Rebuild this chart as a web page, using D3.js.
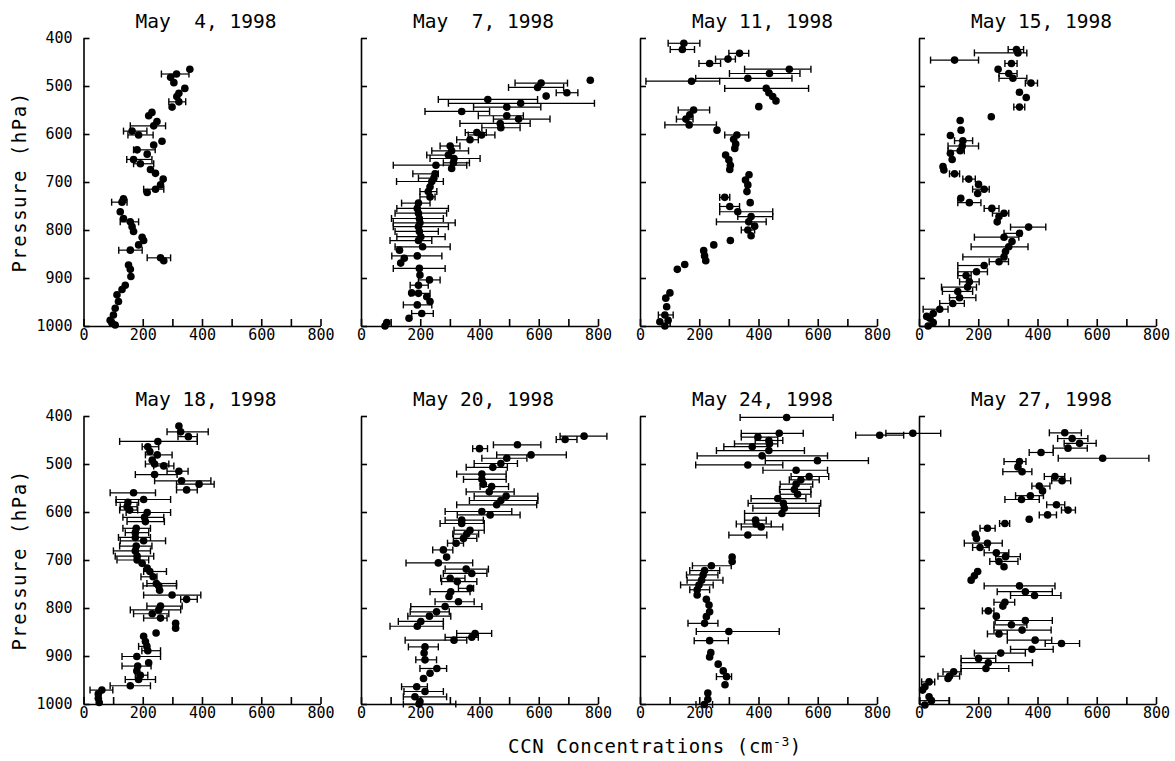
<!DOCTYPE html>
<html>
<head>
<meta charset="utf-8">
<script src="https://cdn.jsdelivr.net/npm/d3@7"></script>
<style>
body { margin: 0; background: #fff; }
text { font-family: "DejaVu Sans Mono", monospace; fill: #000; }
</style>
</head>
<body>
<div id="chart"></div>
<script>
// each row: [ccn, pressure, barLow, barHigh]  (no bar when only two values)
var may04 = [[359,465],[314,475,263,356],[294,482],[305,493],[342,505],[322,515],[315,522],[322,533,288,345],
  [299,544],[231,555],[220,562],[248,574],[237,583,158,277],[164,594,135,214],[186,602,150,235],[265,615],
  [237,623],[181,633,169,242],[215,642],[169,653,146,231],[192,662,169,237],[226,674],[243,682],[269,694],
  [260,706],[243,715,203,271],[215,722],[135,735],[130,742,95,147],[124,762],[135,776],[158,783,124,186],
  [164,793],[169,803],[198,815],[203,822],[186,831],[158,842,119,198],[260,858,215,294],[271,864],[152,873],
  [158,882],[160,897],[141,915],[130,924],[113,935],[118,949],[107,963],[101,977],[90,988],[96,994],[107,998]];

var may07 = [[774,488],[608,494,520,697],[596,503,498,684],[695,514,659,732],[625,521],[428,528,261,596],
  [539,536,295,788],[492,544,380,607],[340,553,216,434],[492,562,396,548],[532,569,447,638],[470,578,334,571],
  [472,587,408,537],[391,597,352,423],[407,602,362,452],[368,612,323,396],[301,625,267,334],[306,635,239,363],
  [295,644,222,301],[314,651,233,402],[312,660,278,366],[253,665,109,357],[306,672],[250,683,175,261],
  [246,692,194,244],[239,699,120,278],[233,710],[227,720,199,256],[233,731,199,250],[194,744,137,233],
  [190,755,121,295],[194,765,115,289],[197,776,103,278],[199,785,109,318],[194,793,109,295],[197,803,115,261],
  [202,814,121,284],[194,822,98,239],[208,835,115,301],[130,842],[190,854,104,273],[146,859],[134,869],
  [197,880,109,284],[199,894],[231,904,194,267],[194,915,166,227],[171,931],[194,932,166,233],[222,939],
  [233,949],[190,956,143,239],[205,974,171,244],[162,984],[87,993],[81,1000]];

var may11 = [[148,411,95,202],[143,424,102,184],[336,432,300,367],[297,444,255,322],[235,453,199,272],
  [504,465,353,577],[437,474,302,540],[364,484,188,513],[174,490,20,269],[426,505,286,569],[435,514],[448,522],
  [459,531],[401,543],[181,550,129,235],[168,560],[155,569,123,179],[166,581,84,258],[260,592],[327,602,286,367],
  [316,611],[323,621],[320,630],[289,644],[300,654],[305,665],[303,674],[368,685],[356,696],[364,706],[361,720],
  [286,732,269,303],[372,743],[303,751,269,336],[330,762,269,448],[375,772,330,448],[367,783,258,426],[387,792],
  [364,800,342,387],[375,812],[305,822],[249,831],[215,843],[218,854],[222,864],[151,872],[126,882],[101,931],
  [87,942],[90,960],[84,977,62,112],[95,988],[67,991],[84,1000]];

var may15 = [[329,424,301,353],[334,431,187,364],[120,446,39,201],[312,453,290,331],[267,465],[303,474,270,331],
  [317,484,270,364],[378,494,359,400],[339,513],[362,524],[339,544,320,357],[244,564],[139,572],[142,592],
  [106,603],[148,614,120,181],[146,625,98,201],[139,635,98,153],[106,640],[112,653],[81,668],[84,675],
  [120,683,103,137],[168,694,148,190],[201,705],[220,715,181,237],[198,724],[141,734],[170,743,131,209],
  [246,755,220,270],[287,765,248,303],[270,772],[264,783],[370,794,309,428],[339,807,287,346],[287,815,187,337],
  [314,824],[303,835,176,368],[292,845],[287,856,148,292],[270,866,237,302],[220,874,131,217],[194,887,131,231],
  [159,895,131,176],[170,908,137,203],[164,919,76,194],[131,928,79,181],[137,941,103,192],[114,953,70,153],
  [70,965,14,98],[48,974],[37,984],[26,980],[48,993],[31,1000]];

var may18 = [[322,421],[328,433,282,421],[354,443,319,384],[251,453,122,384],[217,464,198,254],[224,474],
  [249,481,209,299],[232,492],[240,500,209,288],[271,504,237,305],[322,515,282,353],[240,522,175,316],
  [331,535,240,430],[390,542,314,441],[348,554,314,384],[169,560,90,243],[203,574,110,294],[150,580,110,186],
  [147,589,124,181],[156,596,122,183],[215,601,144,294],[206,611,133,271],[209,620,147,273],[178,634,133,226],
  [175,643,141,220],[175,653,118,226],[203,660,124,277],[178,671,122,231],[175,681,101,226],[181,692,107,237],
  [181,700,113,220],[198,707],[215,717],[224,724,203,280],[235,735,194,248],[246,749,214,314],[254,754,201,314],
  [257,763],[299,773,203,396],[348,782,328,384],[260,796,214,333],[254,804,158,328],[232,812,169,288],
  [260,821,203,282],[311,832],[311,842],[245,852],[203,859],[209,870],[214,880,186,220],[217,889,197,260],
  [180,901,130,260],[220,914],[183,921,130,228],[180,931],[192,940,175,217],[186,949,141,243],[158,962,90,226],
  [62,971,22,99],[50,979],[50,988],[53,997]];

var may20 = [[753,442,672,830],[689,449,659,729],[528,460,447,607],[400,468,377,427],[574,481,458,693],
  [492,488,408,560],[472,499,382,528],[445,507,355,494],[408,521,323,490],[408,532,346,490],[413,542],
  [441,547,402,498],[433,558,355,517],[490,567,382,597],[472,576,366,597],[458,585,323,593],[408,599,284,509],
  [436,606,325,537],[340,617,284,413],[340,624,267,416],[368,638,314,416],[357,646,310,397],[346,655,312,391],
  [321,665,292,346],[278,679,242,310],[289,694],[261,706,152,377],[355,719,284,430],[374,728,278,425],
  [301,738,269,351],[325,745,272,391],[368,759,329,380],[303,766,233,368],[297,776],[329,787,250,382],
  [284,797,168,408],[255,808,166,298],[231,817,158,303],[202,828,126,278],[190,838,98,278],[385,853,323,441],
  [374,861,284,396],[314,867,149,357],[216,881,160,261],[213,894],[216,908,185,255],[256,926,199,289],[233,936],
  [211,947],[188,964,137,224],[216,974,145,278],[182,985,143,289],[199,995],[196,1000,143,320]];

var may24 = [[495,403,338,652],[809,440,728,890],[921,436,830,1015],[470,436,342,551],[398,444,342,465],
  [435,451,389,482],[437,458,319,465],[379,464,283,437],[435,472,258,555],[412,483,193,633],[599,493,423,771],
  [364,502,188,482],[527,513,415,633],[571,526,510,637],[543,533,504,605],[527,542,473,583],[521,553,471,577],
  [532,563,473,577],[465,572,375,560],[484,582,365,610],[487,592,381,605],[479,603,353,605],[390,617,353,426],
  [392,625,325,443],[409,631,342,482],[364,648,300,428],[311,694],[311,703],[241,712,177,308],[218,722,168,269],
  [213,731,157,263],[208,742,159,280],[199,752,137,247],[193,762,168,235],[193,773],[224,782],[233,794],
  [235,808],[224,818],[218,832,162,263],[300,849,190,470],[235,868,183,298],[239,893],[235,902],[264,917],
  [281,931],[292,943,258,309],[287,960],[229,977],[229,990],[217,1001,189,245]];

var may27 = [[492,435,440,548],[517,447,468,570],[542,457,490,598],[503,467,453,568],[412,476,372,453],
  [620,488,470,776],[339,495,287,361],[334,506],[348,516,283,381],[459,526,423,492],[483,535,448,512],
  [406,546,381,442],[417,556],[376,566,326,420],[346,574,290,406],[464,585,431,492],[503,596,481,528],
  [434,606,406,464],[372,615],[290,624,272,306],[231,634,206,257],[190,646],[194,655],[231,665,153,281],
  [206,674,181,237],[261,685,220,303],[292,693,259,342],[270,703,239,334],[287,714],[198,724],[187,733],
  [176,742],[339,754,220,459],[359,766,264,450],[390,774,309,479],[290,788,253,323],[283,796],[234,806,214,253],
  [261,817],[359,826,257,450],[312,835,253,364],[348,846,253,446],[270,854,231,298],[392,867,298,448],
  [481,874,426,542],[381,886,309,453],[276,894,187,359],[201,905,142,259],[234,914,142,383],[226,926,142,303],
  [117,933,81,142],[103,942,64,137],[98,947],[34,954,9,53],[20,964],[12,971],[34,985],[42,993,3,103],[20,1002]];

var titles = ["May  4, 1998", "May  7, 1998", "May 11, 1998", "May 15, 1998",
              "May 18, 1998", "May 20, 1998", "May 24, 1998", "May 27, 1998"];
var panels = [may04, may07, may11, may15, may18, may20, may24, may27];
var xTicks = [0, 100, 200, 300, 400, 500, 600, 700, 800];
var yTicks = [400, 500, 600, 700, 800, 900, 1000];

var svgWidth = 1175;
var svgHeight = 761;
var colX = [83.5, 361, 640, 919];
var rowY = [38, 416];
var panelW = 237;
var panelH = 288;

var svg = d3.select("#chart")
    .append("svg")
    .attr("width", svgWidth)
    .attr("height", svgHeight);

var xScale = d3.scaleLinear().domain([0, 800]).range([0, panelW]);
var yScale = d3.scaleLinear().domain([400, 1000]).range([0, panelH]);

panels.forEach(function(data, i) {
    var col = i % 4, row = Math.floor(i / 4);
    var g = svg.append("g")
        .attr("transform", `translate(${colX[col]}, ${rowY[row]})`);

    // title
    g.append("text")
        .attr("x", panelW / 2 + 4)
        .attr("y", -10)
        .attr("text-anchor", "middle")
        .attr("font-size", 19.5)
        .style("white-space", "pre")
        .text(titles[i]);

    var bottomAxis = d3.axisBottom(xScale)
        .tickValues(xTicks)
        .tickSize(-7)
        .tickSizeOuter(0)
        .tickPadding(3)
        .tickFormat(d => d % 200 === 0 ? d : "");

    var leftAxis = d3.axisLeft(yScale)
        .tickValues(yTicks)
        .tickSize(-6)
        .tickSizeOuter(0)
        .tickPadding(11)
        .tickFormat(d => col === 0 ? d : "");

    var xAxis = g.append("g")
        .attr("transform", `translate(0, ${panelH})`)
        .call(bottomAxis);
    var yAxis = g.append("g").call(leftAxis);

    [xAxis, yAxis].forEach(function(a) {
        a.selectAll("path, line").attr("stroke", "#000").attr("stroke-width", 1.6);
        a.selectAll("text").attr("font-size", 15).attr("font-family", "DejaVu Sans Mono").attr("fill", "#000");
    });

    var bars = data.filter(d => d.length > 2);

    // horizontal error bars with end caps
    g.selectAll("line.bar")
        .data(bars)
        .enter()
        .append("line")
        .attr("class", "bar")
        .attr("x1", d => xScale(d[2]))
        .attr("x2", d => xScale(d[3]))
        .attr("y1", d => yScale(d[1]))
        .attr("y2", d => yScale(d[1]))
        .attr("stroke", "#000")
        .attr("stroke-width", 1.2);

    [2, 3].forEach(function(k) {
        g.selectAll(null)
            .data(bars)
            .enter()
            .append("line")
            .attr("x1", d => xScale(d[k]))
            .attr("x2", d => xScale(d[k]))
            .attr("y1", d => yScale(d[1]) - 3.5)
            .attr("y2", d => yScale(d[1]) + 3.5)
            .attr("stroke", "#000")
            .attr("stroke-width", 1.4);
    });

    g.selectAll("circle")
        .data(data)
        .enter()
        .append("circle")
        .attr("cx", d => xScale(d[0]))
        .attr("cy", d => yScale(d[1]))
        .attr("r", 3.8)
        .attr("fill", "#000");
});

// y labels, one per row
rowY.forEach(function(y0) {
    svg.append("text")
        .attr("transform", `translate(26, ${y0 + panelH / 2}) rotate(-90)`)
        .attr("text-anchor", "middle")
        .attr("font-size", 19)
        .attr("letter-spacing", 1.5)
        .text("Pressure (hPa)");
});

var xLabel = svg.append("text")
    .attr("x", 655)
    .attr("y", 753)
    .attr("text-anchor", "middle")
    .attr("font-size", 19)
    .attr("letter-spacing", 0.6);
xLabel.append("tspan").text("CCN Concentrations (cm");
xLabel.append("tspan").attr("font-size", 13).attr("dy", -7).text("-3");
xLabel.append("tspan").attr("dy", 7).text(")");
</script>
</body>
</html>
